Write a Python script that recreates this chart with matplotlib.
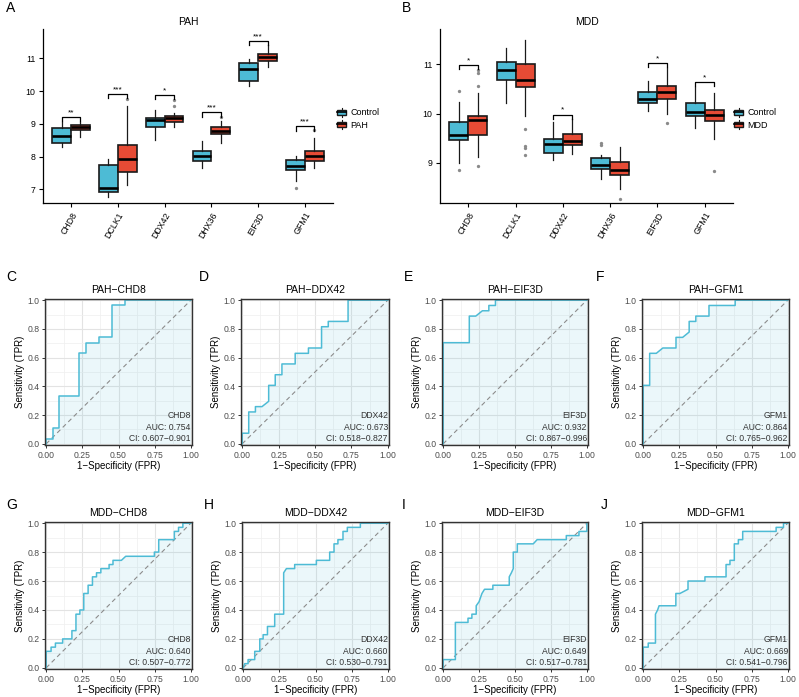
import numpy as np
import matplotlib
matplotlib.use("Agg")
import matplotlib.pyplot as plt
from matplotlib.patches import Patch, Rectangle
from matplotlib.lines import Line2D
from matplotlib.legend_handler import HandlerBase

plt.rcParams['font.family'] = ['Liberation Sans', 'DejaVu Sans']

W, H = 799, 697

# ---------------- boxplot data ----------------
genes = ["CHD8", "DCLK1", "DDX42", "DHX36", "EIF3D", "GFM1"]

pah_ctrl_q1 = [8.42, 6.93, 8.89, 7.86, 10.32, 7.59]
pah_ctrl_med = [8.62, 7.05, 9.11, 8.03, 10.67, 7.71]
pah_ctrl_q3 = [8.87, 7.74, 9.18, 8.18, 10.85, 7.88]
pah_ctrl_lo = [8.30, 6.75, 8.52, 7.66, 10.15, 7.25]
pah_ctrl_hi = [9.05, 7.93, 9.43, 8.49, 10.97, 8.03]
pah_ctrl_out = [[], [], [], [], [], [7.03]]

pah_case_q1 = [8.81, 7.53, 9.06, 8.70, 10.91, 7.87]
pah_case_med = [8.89, 7.94, 9.17, 8.77, 11.03, 8.02]
pah_case_q3 = [8.96, 8.35, 9.24, 8.90, 11.14, 8.17]
pah_case_lo = [8.60, 7.13, 8.89, 8.42, 10.75, 7.66]
pah_case_hi = [9.05, 9.55, 9.32, 9.10, 11.40, 8.56]
pah_case_out = [[], [9.76], [9.55, 9.72], [9.21], [], [8.80]]

pah_sig = ["**", "***", "*", "***", "***", "***"]
pah_bracket = [9.21, 9.92, 9.88, 9.35, 11.54, 8.92]

mdd_ctrl_q1 = [9.46, 10.69, 9.20, 8.88, 10.21, 9.96]
mdd_ctrl_med = [9.56, 10.88, 9.38, 8.96, 10.29, 10.04]
mdd_ctrl_q3 = [9.83, 11.04, 9.49, 9.09, 10.44, 10.22]
mdd_ctrl_lo = [9.00, 10.21, 9.05, 8.66, 10.06, 9.71]
mdd_ctrl_hi = [10.23, 11.34, 9.82, 9.16, 10.66, 10.55]
mdd_ctrl_out = [[10.46, 8.85], [], [], [9.41, 9.35], [], []]

mdd_case_q1 = [9.56, 10.53, 9.35, 8.74, 10.29, 9.85]
mdd_case_med = [9.87, 10.68, 9.45, 8.85, 10.44, 9.97]
mdd_case_q3 = [9.94, 11.00, 9.58, 9.02, 10.57, 10.08]
mdd_case_lo = [9.12, 9.94, 9.17, 8.46, 9.99, 9.49]
mdd_case_hi = [10.41, 11.49, 9.88, 9.31, 10.92, 10.41]
mdd_case_out = [[10.88, 10.82, 10.57, 8.94], [9.68, 9.33, 9.30, 9.16], [], [8.26], [9.81], [8.83]]

mdd_sig = ["*", "", "*", "", "*", "*"]
mdd_bracket = [10.99, None, 9.98, None, 11.03, 10.65]

# ---------------- ROC data ----------------
roc_titles = ["PAH\u2212CHD8", "PAH\u2212DDX42", "PAH\u2212EIF3D", "PAH\u2212GFM1",
              "MDD\u2212CHD8", "MDD\u2212DDX42", "MDD\u2212EIF3D", "MDD\u2212GFM1"]
roc_genes = ["CHD8", "DDX42", "EIF3D", "GFM1", "CHD8", "DDX42", "EIF3D", "GFM1"]
roc_auc = ["0.754", "0.673", "0.932", "0.864", "0.640", "0.660", "0.649", "0.669"]
roc_ci = ["0.607\u22120.901", "0.518\u22120.827", "0.867\u22120.996", "0.765\u22120.962",
          "0.507\u22120.772", "0.530\u22120.791", "0.517\u22120.781", "0.541\u22120.796"]

fpr_c = [0, 0, 0.045, 0.045, 0.091, 0.091, 0.227, 0.227, 0.273, 0.273, 0.364, 0.364, 0.455, 0.455, 0.545, 0.545, 1.0]
tpr_c = [0, 0.037, 0.037, 0.111, 0.111, 0.333, 0.333, 0.630, 0.630, 0.704, 0.704, 0.741, 0.741, 0.963, 0.963, 1.0, 1.0]

fpr_d = [0, 0, 0.045, 0.045, 0.091, 0.091, 0.136, 0.182, 0.182, 0.227, 0.227, 0.273, 0.273, 0.364, 0.364, 0.455, 0.455, 0.545, 0.545, 0.591, 0.591, 0.727, 0.727, 1.0]
tpr_d = [0, 0.074, 0.074, 0.222, 0.222, 0.259, 0.259, 0.296, 0.407, 0.407, 0.481, 0.481, 0.556, 0.556, 0.630, 0.630, 0.667, 0.667, 0.815, 0.815, 0.852, 0.852, 1.0, 1.0]

fpr_e = [0, 0, 0.182, 0.182, 0.227, 0.273, 0.318, 0.318, 0.364, 0.364, 1.0]
tpr_e = [0, 0.704, 0.704, 0.889, 0.889, 0.926, 0.926, 0.963, 0.963, 1.0, 1.0]

fpr_f = [0, 0, 0.045, 0.045, 0.091, 0.136, 0.227, 0.227, 0.273, 0.318, 0.318, 0.364, 0.364, 0.455, 0.455, 0.636, 0.636, 1.0]
tpr_f = [0, 0.407, 0.407, 0.630, 0.630, 0.667, 0.667, 0.741, 0.741, 0.778, 0.852, 0.852, 0.889, 0.889, 0.963, 0.963, 1.0, 1.0]

fpr_g = [0, 0, 0.034, 0.034, 0.064, 0.064, 0.114, 0.114, 0.178, 0.178, 0.206, 0.206, 0.233, 0.233, 0.26, 0.26,
         0.29, 0.29, 0.32, 0.32, 0.348, 0.348, 0.378, 0.378, 0.435, 0.435, 0.462, 0.462, 0.52, 0.55, 0.748, 0.748,
         0.778, 0.778, 0.886, 0.886, 0.915, 0.915, 0.945, 0.945, 1.0]
tpr_g = [0, 0.114, 0.114, 0.143, 0.143, 0.171, 0.171, 0.2, 0.2, 0.257, 0.257, 0.371, 0.371, 0.4, 0.4, 0.514,
         0.514, 0.571, 0.571, 0.629, 0.629, 0.657, 0.657, 0.686, 0.686, 0.714, 0.714, 0.743, 0.743, 0.771, 0.771, 0.8,
         0.8, 0.886, 0.886, 0.943, 0.943, 0.971, 0.971, 1.0, 1.0]

fpr_h = [0, 0.011, 0.034, 0.034, 0.08, 0.08, 0.115, 0.115, 0.138, 0.138, 0.168, 0.168, 0.218, 0.218, 0.28, 0.28,
         0.299, 0.356, 0.356, 0.506, 0.506, 0.598, 0.598, 0.628, 0.628, 0.655, 0.655, 0.69, 0.69, 0.72, 0.72, 0.81, 0.81, 1.0]
tpr_h = [0, 0.029, 0.029, 0.057, 0.057, 0.114, 0.114, 0.2, 0.2, 0.229, 0.229, 0.286, 0.286, 0.371, 0.371, 0.657,
         0.686, 0.686, 0.714, 0.714, 0.743, 0.743, 0.8, 0.8, 0.857, 0.857, 0.886, 0.886, 0.943, 0.943, 0.971, 0.971, 1.0, 1.0]

fpr_i = [0, 0, 0.085, 0.085, 0.173, 0.173, 0.2, 0.2, 0.23, 0.23, 0.25, 0.27, 0.288, 0.346, 0.346, 0.46, 0.46,
         0.475, 0.488, 0.488, 0.516, 0.516, 0.627, 0.654, 0.857, 0.857, 0.945, 0.945, 1.0, 1.0]
tpr_i = [0, 0.057, 0.057, 0.314, 0.314, 0.343, 0.343, 0.371, 0.371, 0.429, 0.457, 0.514, 0.543, 0.543, 0.571, 0.571, 0.629,
         0.657, 0.686, 0.8, 0.8, 0.857, 0.857, 0.886, 0.886, 0.914, 0.914, 0.943, 0.943, 1.0]

fpr_j = [0, 0, 0.035, 0.035, 0.085, 0.085, 0.1, 0.11, 0.226, 0.226, 0.254, 0.31, 0.31, 0.427, 0.427, 0.573, 0.573,
         0.6, 0.6, 0.63, 0.63, 0.658, 0.658, 0.688, 0.688, 0.919, 0.919, 0.97, 0.97, 1.0]
tpr_j = [0, 0.143, 0.143, 0.171, 0.171, 0.371, 0.4, 0.429, 0.429, 0.514, 0.514, 0.543, 0.6, 0.6, 0.629, 0.629, 0.714,
         0.714, 0.743, 0.743, 0.857, 0.857, 0.886, 0.886, 0.943, 0.943, 0.971, 0.971, 1.0, 1.0]

roc_fpr = [fpr_c, fpr_d, fpr_e, fpr_f, fpr_g, fpr_h, fpr_i, fpr_j]
roc_tpr = [tpr_c, tpr_d, tpr_e, tpr_f, tpr_g, tpr_h, tpr_i, tpr_j]

col_ctrl = "#4DBBD5"
col_case = "#E64B35"

fig = plt.figure(figsize=(W / 100, H / 100), dpi=100)
fig.patch.set_facecolor('white')


class BoxKey(HandlerBase):
    # little boxplot glyph for the legend keys
    def create_artists(self, legend, orig_handle, xdescent, ydescent, width, height, fontsize, trans):
        x0, y0 = -xdescent, -ydescent
        vl = Line2D([x0 + width / 2] * 2, [y0 - height * 0.15, y0 + height * 1.15], color='#1a1a1a', lw=0.8,
                    transform=trans)
        rect = Rectangle((x0, y0 + height * 0.1), width, height * 0.8, facecolor=orig_handle.get_facecolor(),
                         edgecolor='#1a1a1a', lw=1.0, transform=trans)
        md = Line2D([x0, x0 + width], [y0 + height / 2] * 2, color='black', lw=1.2, transform=trans)
        return [vl, rect, md]


def px_axes(l, r, t, b):
    return fig.add_axes([l / W, 1 - b / H, (r - l) / W, (b - t) / H])


def make_stats(q1, med, q3, lo, hi, out):
    res = []
    for i in range(len(q1)):
        res.append(dict(q1=q1[i], med=med[i], q3=q3[i], whislo=lo[i], whishi=hi[i], fliers=out[i]))
    return res


def box_panel(ax, title, case_name, ctrl, case, sig, brk, ylim, yticks, leg_x):
    pos = np.arange(1, len(genes) + 1)
    flier = dict(marker='o', markersize=2.4, markerfacecolor='#8a8a8a', markeredgecolor='none')
    for stats, off, col in [(ctrl, -0.2, col_ctrl), (case, 0.2, col_case)]:
        ax.bxp(stats, positions=pos + off, widths=0.4, patch_artist=True, showcaps=False,
               boxprops=dict(facecolor=col, edgecolor='#1a1a1a', linewidth=1.2),
               medianprops=dict(color='black', linewidth=1.9),
               whiskerprops=dict(color='#1a1a1a', linewidth=0.9),
               flierprops=flier)
    for i in range(len(genes)):
        if brk[i] is None:
            continue
        x0, x1 = pos[i] - 0.2, pos[i] + 0.2
        y = brk[i]
        d = 0.025 * (ylim[1] - ylim[0])
        ax.plot([x0, x0, x1, x1], [y - d, y, y, y - d], color='black', lw=0.9)
        ax.text(pos[i], y + 0.004 * (ylim[1] - ylim[0]), sig[i], ha='center', va='bottom', fontsize=6)
    ax.set_xlim(0.4, 6.6)
    ax.set_ylim(*ylim)
    ax.set_yticks(yticks)
    ax.set_xticks(pos)
    ax.set_xticklabels(genes, rotation=60, ha='right', rotation_mode='anchor')
    ax.tick_params(labelsize=6.3, length=3, width=0.8, colors='black', pad=2.5)
    for s in ['top', 'right']:
        ax.spines[s].set_visible(False)
    for s in ['left', 'bottom']:
        ax.spines[s].set_linewidth(0.9)
    ax.set_title(title, fontsize=7.5, pad=3)
    handles = [Patch(facecolor=col_ctrl, edgecolor='black', label='Control'),
               Patch(facecolor=col_case, edgecolor='black', label=case_name)]
    fig.legend(handles=handles, loc='center left', bbox_to_anchor=(leg_x / W, 1 - 119 / H),
               frameon=False, fontsize=6.5, handlelength=1.0, handleheight=0.8,
               handletextpad=0.5, labelspacing=0.35, borderaxespad=0, borderpad=0,
               handler_map={Patch: BoxKey()})


axA = px_axes(43, 333, 29, 203)
box_panel(axA, "PAH", "PAH",
          make_stats(pah_ctrl_q1, pah_ctrl_med, pah_ctrl_q3, pah_ctrl_lo, pah_ctrl_hi, pah_ctrl_out),
          make_stats(pah_case_q1, pah_case_med, pah_case_q3, pah_case_lo, pah_case_hi, pah_case_out),
          pah_sig, pah_bracket, (6.58, 11.9), [7, 8, 9, 10, 11], 337)

axB = px_axes(440, 733, 29, 203)
box_panel(axB, "MDD", "MDD",
          make_stats(mdd_ctrl_q1, mdd_ctrl_med, mdd_ctrl_q3, mdd_ctrl_lo, mdd_ctrl_hi, mdd_ctrl_out),
          make_stats(mdd_case_q1, mdd_case_med, mdd_case_q3, mdd_case_lo, mdd_case_hi, mdd_case_out),
          mdd_sig, mdd_bracket, (8.18, 11.72), [9, 10, 11], 734)

# ---------------- ROC panels ----------------
roc_boxes = [(45, 192, 299, 445), (241, 389, 299, 445), (442, 588, 299, 445), (642, 789, 299, 445),
             (45, 192, 522, 669), (242, 389, 522, 669), (442, 588, 522, 669), (642, 789, 522, 669)]

for k in range(8):
    l, r, t, b = roc_boxes[k]
    ax = px_axes(l, r, t, b)
    ax.set_xlim(-0.008, 1.008)
    ax.set_ylim(-0.008, 1.008)
    ax.set_xticks([0, 0.25, 0.5, 0.75, 1.0])
    ax.set_xticklabels(["0.00", "0.25", "0.50", "0.75", "1.00"])
    ax.set_yticks([0, 0.2, 0.4, 0.6, 0.8, 1.0])
    ax.set_yticklabels(["0.0", "0.2", "0.4", "0.6", "0.8", "1.0"])
    ax.set_xticks([0.125, 0.375, 0.625, 0.875], minor=True)
    ax.set_yticks([0.1, 0.3, 0.5, 0.7, 0.9], minor=True)
    ax.grid(True, which='major', color='#e3e3e3', lw=0.8)
    ax.grid(True, which='minor', color='#efefef', lw=0.5)
    ax.tick_params(which='minor', length=0)
    ax.tick_params(which='major', labelsize=6.2, length=2.5, width=0.7, colors='#333333',
                   labelcolor='#4d4d4d', pad=1.5)
    ax.set_axisbelow(True)
    for s in ax.spines.values():
        s.set_color('#333333')
        s.set_linewidth(1.0)
    fx = roc_fpr[k]
    ty = roc_tpr[k]
    ax.fill_between(fx, ty, 0, color=col_ctrl, alpha=0.11, lw=0)
    ax.plot([0, 1], [0, 1], ls=(0, (4, 3)), color='#8c8c8c', lw=0.8)
    ax.plot(fx, ty, color=col_ctrl, lw=1.1)
    ax.text(1.0, 0.195, roc_genes[k], ha='right', va='center', fontsize=6.2, color='#333333')
    ax.text(1.0, 0.115, "AUC: " + roc_auc[k], ha='right', va='center', fontsize=6.2, color='#333333')
    ax.text(1.0, 0.035, "CI: " + roc_ci[k], ha='right', va='center', fontsize=6.2, color='#333333')
    ax.set_title(roc_titles[k], fontsize=7.5, pad=4)
    ax.set_xlabel("1\u2212Specificity (FPR)", fontsize=7, labelpad=1)
    ax.set_ylabel("Sensitivity (TPR)", fontsize=7, labelpad=2)

# panel letters
letters = ["A", "B", "C", "D", "E", "F", "G", "H", "I", "J"]
letter_x = [6, 402, 6, 199, 404, 596, 6, 204, 402, 601]
letter_y = [8, 8, 277, 277, 277, 277, 505, 505, 505, 505]
for i in range(len(letters)):
    fig.text(letter_x[i] / W, 1 - letter_y[i] / H, letters[i], fontsize=10, ha='left', va='center')

fig.savefig("out.png", dpi=100, facecolor='white')
